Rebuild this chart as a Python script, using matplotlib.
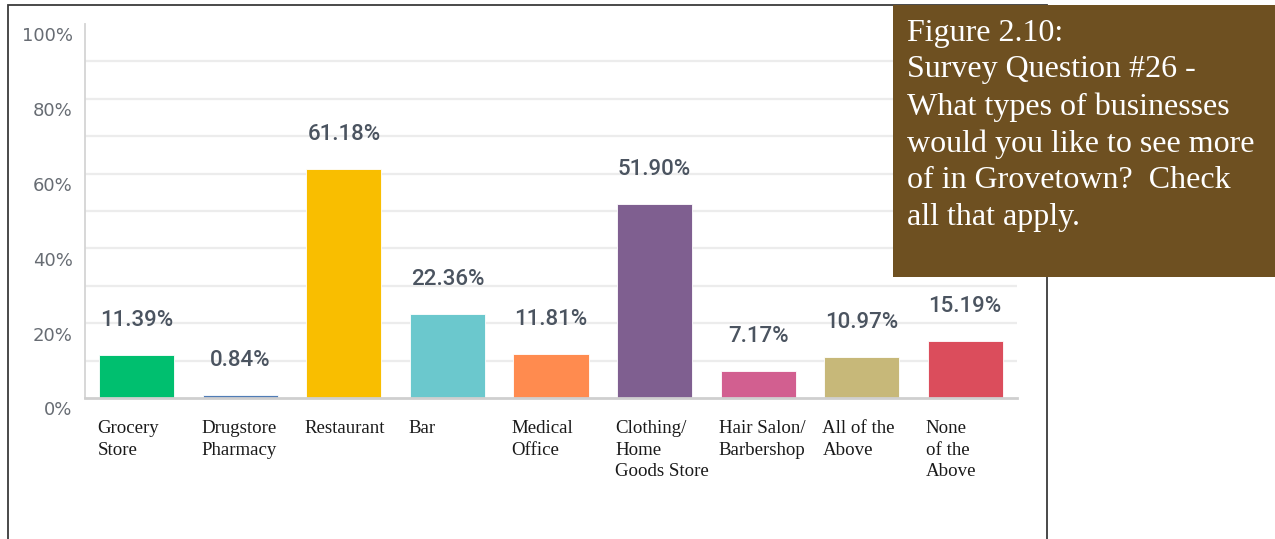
import matplotlib
matplotlib.use("Agg")
import matplotlib.pyplot as plt
from matplotlib.patches import Rectangle
from matplotlib.transforms import ScaledTranslation

# Survey responses (percent of respondents)
categories = ["Grocery\nStore", "Drugstore\nPharmacy", "Restaurant", "Bar",
              "Medical\nOffice", "Clothing/\nHome\nGoods Store",
              "Hair Salon/\nBarbershop", "All of the\nAbove", "None\nof the\nAbove"]
values = [11.39, 0.84, 61.18, 22.36, 11.81, 51.90, 7.17, 10.97, 15.19]
colors = ["#00BF6F", "#507CB6", "#F9BE00", "#6BC8CD", "#FF8B4F",
          "#7F5F90", "#D25F90", "#C7B879", "#DB4D5C"]
ytick_values = [0, 20, 40, 60, 80, 100]
ytick_labels = ["0%", "20%", "40%", "60%", "80%", "100%"]
grid_values = [10, 20, 30, 40, 50, 60, 70, 80, 90]
caption = ("Figure 2.10:\nSurvey Question #26 -\nWhat types of businesses\n"
           "would you like to see more\nof in Grovetown?  Check\nall that apply.")

W, H = 1275, 539
fig = plt.figure(figsize=(W / 100, H / 100), dpi=100)
fig.patch.set_facecolor("white")

# outer frame around the chart
fig.add_artist(Rectangle((8 / W, -0.05), (1047 - 8) / W, (H - 5) / H + 0.05,
                         transform=fig.transFigure, fill=False,
                         edgecolor="#3a3a3a", linewidth=1.3, zorder=0))

ax = fig.add_axes([85 / W, (H - 398) / H, (1017 - 85) / W, 374 / H])
ax.set_xlim(-0.5, len(values) - 0.5)
ax.set_ylim(0, 100)

for g in grid_values:
    ax.axhline(g, color="#ececec", linewidth=1.6, zorder=0)

x = list(range(len(values)))
ax.bar(x, values, width=0.725, color=colors, zorder=2,
       edgecolor="white", linewidth=0.6)

for xi, v in zip(x, values):
    ax.annotate(f"{v:.2f}%", xy=(xi, v), xytext=(0, 25), textcoords="offset points",
                ha="center", va="center", fontsize=16, fontfamily="Roboto",
                fontweight="medium", color="#4b5460")

for xi, lab in zip(x, categories):
    ax.annotate(lab, xy=(xi - 0.38, 0), xytext=(0, -16), textcoords="offset points",
                ha="left", va="top", fontsize=13.6, fontfamily="Liberation Serif",
                color="#1a1a1a", linespacing=1.35, annotation_clip=False)

for s in ["top", "right"]:
    ax.spines[s].set_visible(False)
ax.spines["left"].set_color("#d4d4d4")
ax.spines["left"].set_linewidth(1.3)
ax.spines["bottom"].set_color("#cfcfcf")
ax.spines["bottom"].set_linewidth(2)
ax.spines["bottom"].set_zorder(3)

ax.set_xticks([])
ax.set_yticks(ytick_values)
ax.set_yticklabels(ytick_labels)
ax.tick_params(axis="y", length=0, pad=9, labelsize=13, labelcolor="#676c73")
shift = ScaledTranslation(0, -2.5 / 72, fig.dpi_scale_trans)
for t in ax.get_yticklabels():
    t.set_fontfamily("DejaVu Sans")
    t.set_verticalalignment("top")
    t.set_transform(t.get_transform() + shift)

# caption box
fig.add_artist(Rectangle((893 / W, (H - 277) / H), (W - 893) / W, (277 - 5) / H,
                         transform=fig.transFigure, facecolor="#6E5021",
                         edgecolor="none", zorder=5))
fig.text(907 / W, (H - 19) / H, caption, ha="left", va="top", fontsize=23,
         fontfamily="Liberation Serif", color="white", linespacing=1.34, zorder=6)

fig.savefig("out.png", dpi=100)
